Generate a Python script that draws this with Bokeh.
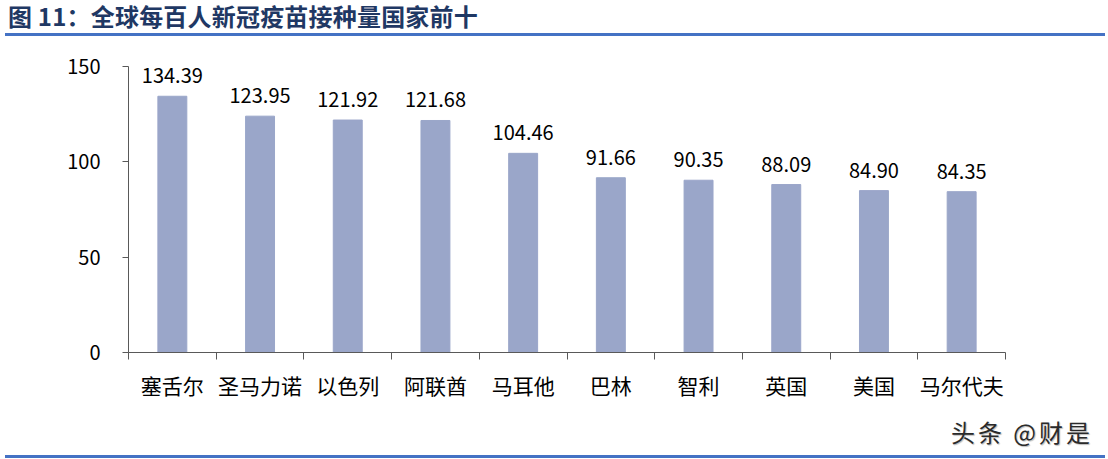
from bokeh.plotting import figure
from bokeh.models import Div, LinearAxis, FixedTicker, Range1d, ColumnDataSource
from bokeh.layouts import column
from bokeh.embed import file_html
from bokeh.resources import INLINE
from bokeh.core.properties import value

countries = ["塞舌尔", "圣马力诺", "以色列", "阿联酋", "马耳他", "巴林", "智利", "英国", "美国", "马尔代夫"]
doses = [134.39, 123.95, 121.92, 121.68, 104.46, 91.66, 90.35, 88.09, 84.90, 84.35]
labels = ["134.39", "123.95", "121.92", "121.68", "104.46", "91.66", "90.35", "88.09", "84.90", "84.35"]
y_ticks = [0, 50, 100, 150]

FONT = "Noto Sans CJK SC"
xs = [i + 0.5 for i in range(len(countries))]
src = ColumnDataSource(dict(x=xs, top=doses, lab=labels))

title = Div(
    text="图 11：全球每百人新冠疫苗接种量国家前十",
    width=1100, height=31,
    styles={"font-family": FONT, "font-weight": "bold", "font-size": "24px",
            "color": "#1f3864", "border-bottom": "3px solid #4472c4",
            "box-sizing": "border-box", "line-height": "22px", "padding-left": "3px",
            "width": "1100px", "height": "31px", "white-space": "nowrap",
            "letter-spacing": "0.2px"},
)

p = figure(width=1092, height=376, output_backend="svg", toolbar_location=None,
           x_range=Range1d(0, 10), y_range=Range1d(0, 150),
           x_axis_location=None, y_axis_location=None,
           min_border_left=128, min_border_right=87, min_border_top=25, min_border_bottom=65)
p.outline_line_color = None
p.xgrid.visible = False
p.ygrid.visible = False
p.background_fill_color = "white"
p.border_fill_color = "white"

p.vbar(x="x", top="top", width=0.33, bottom=0, source=src, color="#9aa6c9")
p.text(x="x", y="top", text="lab", source=src, text_align="center", text_baseline="bottom",
       y_offset=-13, text_font=value(FONT), text_font_size="20px", text_color="#000000")

yax = LinearAxis(ticker=FixedTicker(ticks=y_ticks))
yax.axis_line_color = "#595959"
yax.major_tick_line_color = "#595959"
yax.major_tick_out = 6
yax.major_tick_in = 0
yax.minor_tick_line_color = None
yax.major_label_standoff = 22
yax.major_label_text_font = FONT
yax.major_label_text_font_size = "20px"
yax.major_label_text_color = "#000000"
p.add_layout(yax, "left")

xax = LinearAxis(ticker=FixedTicker(ticks=list(range(11))))
xax.axis_line_color = "#595959"
xax.major_tick_line_color = "#595959"
xax.major_tick_out = 7
xax.major_tick_in = 0
xax.minor_tick_line_color = None
xax.major_label_overrides = {i: "" for i in range(11)}
xax.major_label_text_font_size = "1px"
xax.major_label_standoff = 0
p.add_layout(xax, "below")

xlab = LinearAxis(ticker=FixedTicker(ticks=xs))
xlab.axis_line_color = None
xlab.major_tick_line_color = None
xlab.minor_tick_line_color = None
xlab.major_label_overrides = {x: c for x, c in zip(xs, countries)}
xlab.major_label_standoff = 4
xlab.major_label_text_font = FONT
xlab.major_label_text_font_size = "21px"
xlab.major_label_text_color = "#000000"
p.add_layout(xlab, "below")

footer = Div(
    text="头条 @财是",
    width=1100, height=36,
    styles={"font-family": FONT, "font-size": "24px", "color": "#2a2a2a",
            "letter-spacing": "3px",
            "text-shadow": "1px 1px 1px #bbbbbb",
            "border-bottom": "3px solid #4472c4", "box-sizing": "border-box",
            "text-align": "right", "padding-right": "12px", "line-height": "20px",
            "width": "1100px", "height": "36px", "white-space": "nowrap"},
)

layout = column(title, p, footer, spacing=0)
open("out.html", "w").write(file_html(layout, INLINE))
